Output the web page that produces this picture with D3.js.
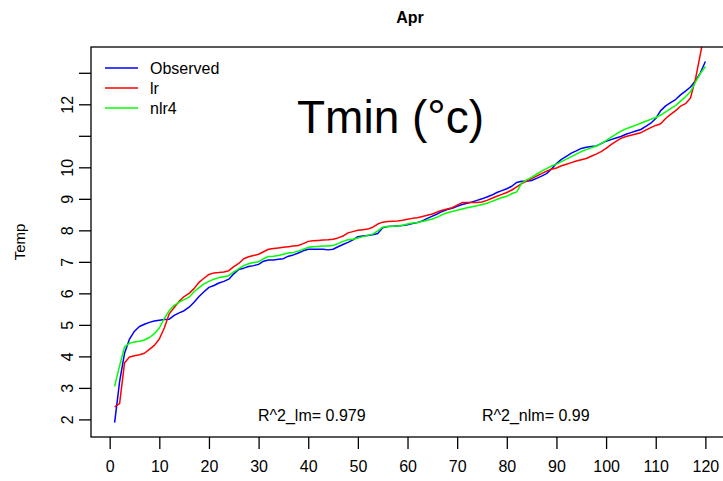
<!DOCTYPE html>
<html>
<head>
<meta charset="utf-8">
<script src="https://cdn.jsdelivr.net/npm/d3@7"></script>
<style>
  html, body { margin: 0; padding: 0; background: #ffffff; }
  svg { display: block; font-family: "Liberation Sans", Arial, sans-serif; }
</style>
</head>
<body>
<svg id="chart" width="723" height="481"></svg>
<script>
// Sorted April minimum temperatures and the two fitted series
const observed = [
  1.90, 3.20, 4.10, 4.55, 4.80, 4.95, 5.02, 5.08, 5.12, 5.15,
  5.17, 5.18, 5.30, 5.38, 5.45, 5.56, 5.72, 5.90, 6.05, 6.19,
  6.25, 6.33, 6.38, 6.45, 6.62, 6.76, 6.80, 6.85, 6.88, 6.92,
  7.02, 7.06, 7.06, 7.08, 7.10, 7.18, 7.22, 7.28, 7.35, 7.40,
  7.40, 7.40, 7.40, 7.38, 7.40, 7.48, 7.55, 7.62, 7.70, 7.80,
  7.82, 7.84, 7.86, 7.90, 8.08, 8.12, 8.13, 8.14, 8.15, 8.18,
  8.22, 8.25, 8.30, 8.38, 8.45, 8.52, 8.60, 8.66, 8.70, 8.76,
  8.82, 8.86, 8.90, 8.95, 9.00, 9.06, 9.12, 9.20, 9.26, 9.32,
  9.40, 9.52, 9.56, 9.56, 9.58, 9.65, 9.72, 9.80, 9.95, 10.12,
  10.25, 10.35, 10.45, 10.52, 10.60, 10.64, 10.66, 10.68, 10.75, 10.83,
  10.88, 10.93, 10.98, 11.05, 11.10, 11.15, 11.20, 11.30, 11.40, 11.55,
  11.80, 11.95, 12.05, 12.15, 12.30, 12.42, 12.55, 12.75, 13.00, 13.36
];
const lr = [
  2.40, 2.50, 3.80, 3.98, 4.02, 4.05, 4.10, 4.22, 4.35, 4.55,
  4.90, 5.35, 5.55, 5.75, 5.90, 6.00, 6.15, 6.35, 6.48, 6.60,
  6.65, 6.66, 6.68, 6.72, 6.85, 6.95, 7.10, 7.16, 7.20, 7.24,
  7.32, 7.40, 7.42, 7.44, 7.46, 7.48, 7.50, 7.52, 7.58, 7.65,
  7.67, 7.68, 7.69, 7.70, 7.72, 7.76, 7.82, 7.92, 7.96, 8.00,
  8.02, 8.04, 8.10, 8.20, 8.26, 8.28, 8.29, 8.30, 8.32, 8.35,
  8.38, 8.40, 8.44, 8.48, 8.52, 8.58, 8.64, 8.68, 8.72, 8.80,
  8.88, 8.88, 8.88, 8.88, 8.90, 8.95, 9.02, 9.08, 9.14, 9.20,
  9.28, 9.38, 9.48, 9.56, 9.64, 9.72, 9.80, 9.88, 9.94, 9.98,
  10.05, 10.10, 10.15, 10.20, 10.24, 10.28, 10.35, 10.42, 10.50, 10.60,
  10.72, 10.82, 10.92, 10.98, 11.02, 11.06, 11.10, 11.18, 11.26, 11.33,
  11.38, 11.55, 11.68, 11.80, 11.94, 12.02, 12.20, 12.80, 13.60, 14.40
];
const nlr4 = [
  3.05, 3.70, 4.30, 4.42, 4.46, 4.48, 4.52, 4.60, 4.72, 4.90,
  5.20, 5.45, 5.62, 5.72, 5.80, 5.88, 6.05, 6.18, 6.30, 6.38,
  6.45, 6.50, 6.53, 6.56, 6.68, 6.78, 6.88, 6.94, 6.98, 7.00,
  7.10, 7.17, 7.18, 7.20, 7.24, 7.28, 7.30, 7.34, 7.40, 7.46,
  7.48, 7.49, 7.50, 7.50, 7.52, 7.58, 7.65, 7.70, 7.72, 7.76,
  7.80, 7.84, 7.88, 7.98, 8.10, 8.12, 8.13, 8.14, 8.16, 8.20,
  8.23, 8.25, 8.28, 8.32, 8.36, 8.42, 8.50, 8.56, 8.60, 8.64,
  8.68, 8.72, 8.75, 8.78, 8.82, 8.86, 8.92, 8.98, 9.04, 9.08,
  9.16, 9.22, 9.50, 9.60, 9.68, 9.78, 9.88, 9.96, 10.04, 10.10,
  10.18, 10.26, 10.34, 10.42, 10.50, 10.56, 10.62, 10.67, 10.75, 10.85,
  10.95, 11.05, 11.15, 11.22, 11.28, 11.34, 11.40, 11.46, 11.52, 11.58,
  11.66, 11.76, 11.86, 11.96, 12.10, 12.24, 12.40, 12.70, 12.98, 13.20
];

const xTicks = [0, 10, 20, 30, 40, 50, 60, 70, 80, 90, 100, 110, 120];
const yTicks = [2, 3, 4, 5, 6, 7, 8, 9, 10, 11, 12, 13];
const yTickLabels = ["2", "3", "4", "5", "6", "7", "8", "9", "10", "", "12", ""];

const seriesNames = ["Observed", "lr", "nlr4"];
const seriesColors = ["#0000ff", "#ff0000", "#00ff00"];
const seriesData = [observed, lr, nlr4];

const chartTitle = "Apr";
const yTitle = "Temp";
const overlayText = "Tmin (\u00B0c)";
const r2Labels = ["R^2_lm= 0.979", "R^2_nlm= 0.99"];

// Plot region (R-style: data range padded by 4% on each side)
const box = { left: 91, top: 47, right: 729, bottom: 437 };
const n = observed.length;
const xPad = (n - 1) * 0.04;
const yMin = d3.min(observed), yMax = d3.max(observed);
const yPad = (yMax - yMin) * 0.04;

const x = d3.scaleLinear().domain([1 - xPad, n + xPad]).range([box.left, box.right]);
const y = d3.scaleLinear().domain([yMin - yPad, yMax + yPad]).range([box.bottom, box.top]);

const svg = d3.select("#chart");

svg.append("defs").append("clipPath").attr("id", "plotClip")
  .append("rect")
  .attr("x", box.left).attr("y", box.top)
  .attr("width", box.right - box.left).attr("height", box.bottom - box.top);

// Series lines
const line = d3.line().x((d, i) => x(i + 1)).y(d => y(d));
const g = svg.append("g").attr("clip-path", "url(#plotClip)");
seriesData.forEach((vals, k) => {
  g.append("path")
    .datum(vals)
    .attr("fill", "none")
    .attr("stroke", seriesColors[k])
    .attr("stroke-width", 1.5)
    .attr("stroke-linejoin", "round")
    .attr("d", line);
});

// Frame
svg.append("rect")
  .attr("x", box.left).attr("y", box.top)
  .attr("width", box.right - box.left).attr("height", box.bottom - box.top)
  .attr("fill", "none").attr("stroke", "#000").attr("stroke-width", 1.3);

// X axis
const xAxis = d3.axisBottom(x).tickValues(xTicks).tickSize(12).tickPadding(12);
const gx = svg.append("g").attr("transform", `translate(0,${box.bottom})`).call(xAxis);
gx.select(".domain").remove();
gx.selectAll(".tick line").attr("stroke", "#000").attr("stroke-width", 1.3);
gx.selectAll(".tick text").attr("font-size", 16).attr("fill", "#000")
  .attr("font-family", "Liberation Sans, Arial, sans-serif");

// Y axis with labels parallel to the axis
const yAxis = d3.axisLeft(y).tickValues(yTicks).tickSize(12)
  .tickFormat((d, i) => yTickLabels[i]);
const gy = svg.append("g").attr("transform", `translate(${box.left},0)`).call(yAxis);
gy.select(".domain").remove();
gy.selectAll(".tick line").attr("stroke", "#000").attr("stroke-width", 1.3);
gy.selectAll(".tick text")
  .attr("font-size", 16).attr("fill", "#000")
  .attr("font-family", "Liberation Sans, Arial, sans-serif")
  .attr("x", null).attr("dy", null)
  .attr("text-anchor", "middle")
  .attr("transform", "translate(-24,0) rotate(-90)")
  .attr("dy", "0.35em");

// Titles
svg.append("text").attr("x", 410).attr("y", 23)
  .attr("text-anchor", "middle").attr("font-weight", "bold").attr("font-size", 16)
  .text(chartTitle);

svg.append("text")
  .attr("transform", "translate(25,242) rotate(-90)")
  .attr("text-anchor", "middle").attr("font-size", 15)
  .text(yTitle);

svg.append("text").attr("x", 297).attr("y", 133)
  .attr("font-size", 46).attr("fill", "#000")
  .text(overlayText);

// R-squared annotations
svg.append("text").attr("x", 258).attr("y", 421).attr("font-size", 16).text(r2Labels[0]);
svg.append("text").attr("x", 482).attr("y", 421).attr("font-size", 16).text(r2Labels[1]);

// Legend
const legend = svg.append("g");
seriesNames.forEach((name, k) => {
  const ly = 68 + k * 20;
  legend.append("line")
    .attr("x1", 105).attr("x2", 138).attr("y1", ly).attr("y2", ly)
    .attr("stroke", seriesColors[k]).attr("stroke-width", 1.5);
  legend.append("text")
    .attr("x", 150).attr("y", ly).attr("dy", "0.35em")
    .attr("font-size", 16).text(name);
});
</script>
</body>
</html>
